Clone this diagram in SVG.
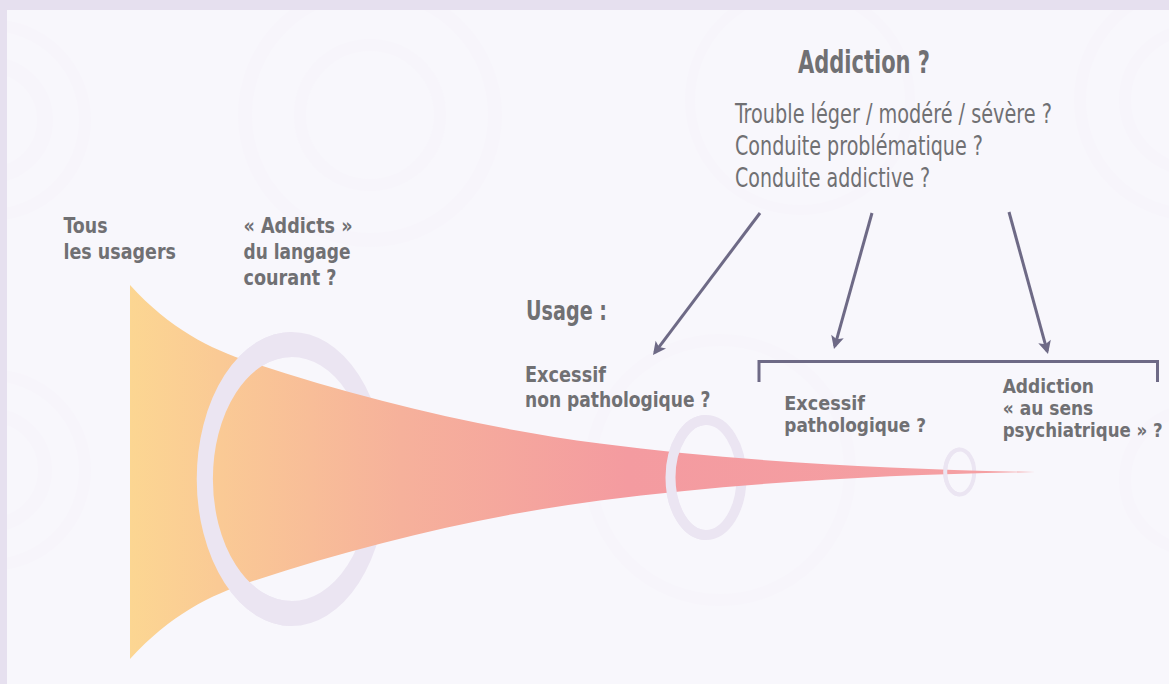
<svg xmlns="http://www.w3.org/2000/svg" width="1169" height="684" viewBox="0 0 1169 684">
<style>
.t{font-family:"DejaVu Sans Condensed","Liberation Sans Narrow",Roboto,"Liberation Sans",sans-serif;fill:#707073;}
.b{font-weight:bold;font-size:22px;}
.s{font-size:19px;}
.r{font-weight:normal;font-size:26px;}
.ring{fill:none;stroke:#ebe5f2;}
.bg{fill:none;stroke:#f7f5fb;}
.conn{fill:none;stroke:#6e6a86;stroke-width:3;}
</style>
<defs>
<linearGradient id="fg" gradientUnits="userSpaceOnUse" x1="130" y1="0" x2="1035" y2="0">
<stop offset="0" stop-color="#fcd692"/>
<stop offset="0.3" stop-color="#f6b19b"/>
<stop offset="0.55" stop-color="#f49ba0"/>
<stop offset="1" stop-color="#f5a0a3"/>
</linearGradient>
<marker id="ah" viewBox="-12 -8 16 16" refX="0" refY="0" markerWidth="16" markerHeight="16" markerUnits="userSpaceOnUse" orient="auto">
<path d="M3,0 L-10,-6.5 L-7,0 L-10,6.5 z" fill="#6e6a86"/>
</marker>
<clipPath id="c1"><rect x="0" y="0" width="291.7" height="684"/></clipPath>
<clipPath id="c2"><rect x="0" y="0" width="706" height="684"/></clipPath>
<clipPath id="c3"><rect x="0" y="0" width="959.7" height="684"/></clipPath>
<clipPath id="panel"><rect x="7" y="10" width="1162" height="674"/></clipPath>
</defs>
<rect width="1169" height="684" fill="#e6e0ef"/>
<rect x="7" y="10" width="1162" height="674" fill="#f8f7fc"/>
<g id="bgcircles" clip-path="url(#panel)">
<circle class="bg" cx="-10" cy="120" r="55" stroke-width="16"/>
<circle class="bg" cx="-10" cy="120" r="95" stroke-width="12"/>
<circle class="bg" cx="370" cy="115" r="70" stroke-width="12"/>
<circle class="bg" cx="370" cy="115" r="125" stroke-width="14"/>
<circle class="bg" cx="-10" cy="470" r="55" stroke-width="14"/>
<circle class="bg" cx="-10" cy="470" r="95" stroke-width="12"/>
<circle class="bg" cx="1195" cy="100" r="70" stroke-width="12"/>
<circle class="bg" cx="1195" cy="100" r="115" stroke-width="12"/>
<circle class="bg" cx="720" cy="470" r="130" stroke-width="12"/>
<circle class="bg" cx="1195" cy="480" r="70" stroke-width="12"/>
<circle class="bg" cx="800" cy="100" r="110" stroke-width="10"/>
</g>
<g id="rings-back">
<circle class="ring" transform="translate(291.7,479) scale(0.646,1)" r="134.5" stroke-width="25"/>
<ellipse class="ring" cx="706" cy="477.5" rx="35.5" ry="57.5" stroke-width="10"/>
<ellipse class="ring" cx="959.7" cy="472" rx="14.5" ry="22.5" stroke-width="4"/>
</g>
<g id="funnel">
<path d="M130,285 C170,329 210,348.8 250,362 C366.7,400.5 483.3,428.3 600,443.5 C745,462.4 890,469.1 1035,472 C890,474.9 745,481.6 600,500.5 C483.3,515.7 366.7,543.5 250,582 C210,595.2 170,615 130,659 Z" fill="url(#fg)"/>
</g>
<g id="rings-front">
<g clip-path="url(#c1)"><circle class="ring" transform="translate(291.7,479) scale(0.646,1)" r="134.5" stroke-width="25"/></g>
<g clip-path="url(#c2)"><ellipse class="ring" cx="706" cy="477.5" rx="35.5" ry="57.5" stroke-width="10"/></g>
<g clip-path="url(#c3)"><ellipse class="ring" cx="959.7" cy="472" rx="14.5" ry="22.5" stroke-width="4"/></g>
</g>
<g id="connectors">
<path class="conn" d="M760,213 L654.8,352.6" marker-end="url(#ah)"/>
<path class="conn" d="M872,213 L834.8,346.1" marker-end="url(#ah)"/>
<path class="conn" d="M1009,212 L1047.2,351.1" marker-end="url(#ah)"/>
<path class="conn" d="M759,382 L759,361.5 L1157.5,361.5 L1157.5,382" stroke-width="2.5"/>
</g>
<g id="addiction">
<text class="t b" x="798" y="73.3" textLength="132" lengthAdjust="spacingAndGlyphs" style="font-size:32px">Addiction ?</text>
<text class="t r" x="735" y="122.7" textLength="317" lengthAdjust="spacingAndGlyphs">Trouble léger / modéré / sévère ?</text>
<text class="t r" x="735" y="155" textLength="248" lengthAdjust="spacingAndGlyphs">Conduite problématique ?</text>
<text class="t r" x="735" y="187" textLength="195" lengthAdjust="spacingAndGlyphs">Conduite addictive ?</text>
</g>
<g id="tous">
<text class="t b" x="63.5" y="233" textLength="44" lengthAdjust="spacingAndGlyphs">Tous</text>
<text class="t b" x="63.5" y="258.5" textLength="112.5" lengthAdjust="spacingAndGlyphs">les usagers</text>
</g>
<g id="addicts">
<text class="t b" x="243.5" y="233" textLength="109" lengthAdjust="spacingAndGlyphs">« Addicts »</text>
<text class="t b" x="243.5" y="258.5" textLength="107" lengthAdjust="spacingAndGlyphs">du langage</text>
<text class="t b" x="243.5" y="285" textLength="93" lengthAdjust="spacingAndGlyphs">courant ?</text>
</g>
<g id="usage">
<text class="t b" x="526" y="320" textLength="81" lengthAdjust="spacingAndGlyphs" style="font-size:27px">Usage :</text>
</g>
<g id="excessif-non">
<text class="t b" x="525" y="381.7" textLength="81" lengthAdjust="spacingAndGlyphs">Excessif</text>
<text class="t b" x="525" y="407.3" textLength="185.5" lengthAdjust="spacingAndGlyphs">non pathologique ?</text>
</g>
<g id="excessif-path">
<text class="t b s" x="784.3" y="410" textLength="80.7" lengthAdjust="spacingAndGlyphs">Excessif</text>
<text class="t b s" x="784.3" y="432" textLength="141.7" lengthAdjust="spacingAndGlyphs">pathologique ?</text>
</g>
<g id="addiction-psy">
<text class="t b s" x="1002.7" y="392.7" textLength="91.3" lengthAdjust="spacingAndGlyphs">Addiction</text>
<text class="t b s" x="1002.7" y="415" textLength="90.6" lengthAdjust="spacingAndGlyphs">« au sens</text>
<text class="t b s" x="1002.7" y="437" textLength="160" lengthAdjust="spacingAndGlyphs">psychiatrique » ?</text>
</g>
</svg>
